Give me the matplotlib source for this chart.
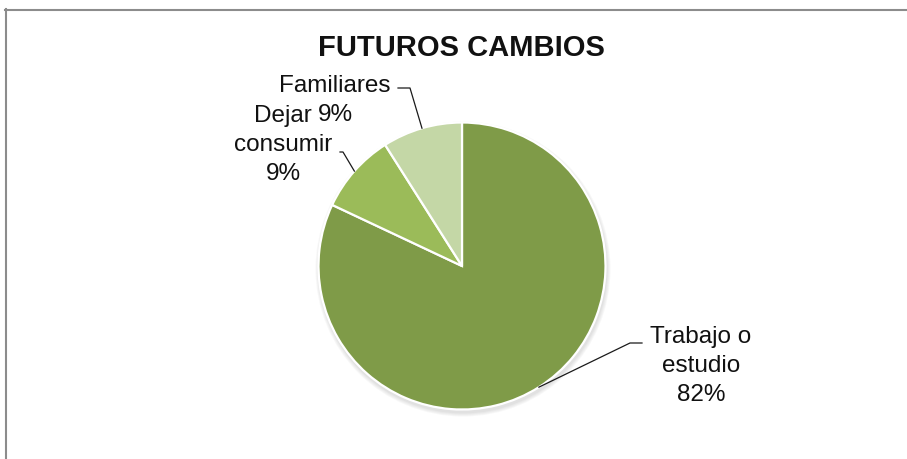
import numpy as np
import matplotlib
matplotlib.use("Agg")
import matplotlib.pyplot as plt
from matplotlib.patches import Circle

# chart data
categorias = ["Trabajo o\nestudio", "Dejar\nconsumir", "Familiares"]
valores = [82, 9, 9]
colores = ["#7F9B48", "#9BBB59", "#C4D7A6"]
titulo = "FUTUROS CAMBIOS"

plt.rcParams["font.family"] = ["Liberation Sans", "DejaVu Sans"]

W, H = 907, 459
fig = plt.figure(figsize=(W / 100, H / 100), dpi=100)
ax = fig.add_axes([0, 0, 1, 1])

cx, cy, r = 462, H - 266, 143.5

# soft shadow under the pie
for i, a in enumerate([0.05, 0.05, 0.05, 0.06]):
    ax.add_patch(Circle((cx + 1, cy - 3), r + 4 - i, color="#707070",
                        alpha=a, lw=0, zorder=1))

wedges, _ = ax.pie(valores, colors=colores, startangle=90, counterclock=False,
                   center=(cx, cy), radius=r, frame=True,
                   wedgeprops=dict(edgecolor="white", linewidth=1.6))
for w in wedges:
    w.set_zorder(2)
ax.set_xlim(0, W)
ax.set_ylim(0, H)
ax.set_aspect("equal")
ax.axis("off")


def ancla(w):
    ang = np.deg2rad((w.theta1 + w.theta2) / 2)
    return cx + r * np.cos(ang), cy + r * np.sin(ang)


# label placement (x centre, y of first line, image space) and leader elbows
etiquetas = [
    dict(x=701, y=337, codo=[(630, 343), (642, 343)]),
    dict(x=283, y=116, codo=[(343, 152), (340, 152)]),
    dict(x=335, y=86, codo=[(410, 88), (398, 88)]),
]
paso = 29  # line spacing in px

for w, cat, val, lab in zip(wedges, categorias, valores, etiquetas):
    x0, y0 = ancla(w)
    xs = [x0] + [p[0] for p in lab["codo"]]
    ys = [y0] + [H - p[1] for p in lab["codo"]]
    ax.plot(xs, ys, color="#1a1a1a", lw=0.9, zorder=3)
    lineas = cat.split("\n") + [f"{val}%"]
    for k, txt in enumerate(lineas):
        ax.text(lab["x"], H - lab["y"] - k * paso, txt, ha="center",
                va="center", fontsize=17.5, color="#111111", zorder=4)

ax.text(461, H - 48, titulo, ha="center", va="center", fontsize=21,
        fontweight="bold", color="#111111")

# outer chart frame
fig.add_artist(plt.Line2D([5.5 / W, 5.5 / W], [0, 1 - 9 / H],
                          color="#8c8c8c", lw=1.5, transform=fig.transFigure))
fig.add_artist(plt.Line2D([5 / W, 1], [1 - 9.5 / H, 1 - 9.5 / H],
                          color="#8c8c8c", lw=1.5, transform=fig.transFigure))

fig.savefig("out.png", dpi=100, facecolor="white")
